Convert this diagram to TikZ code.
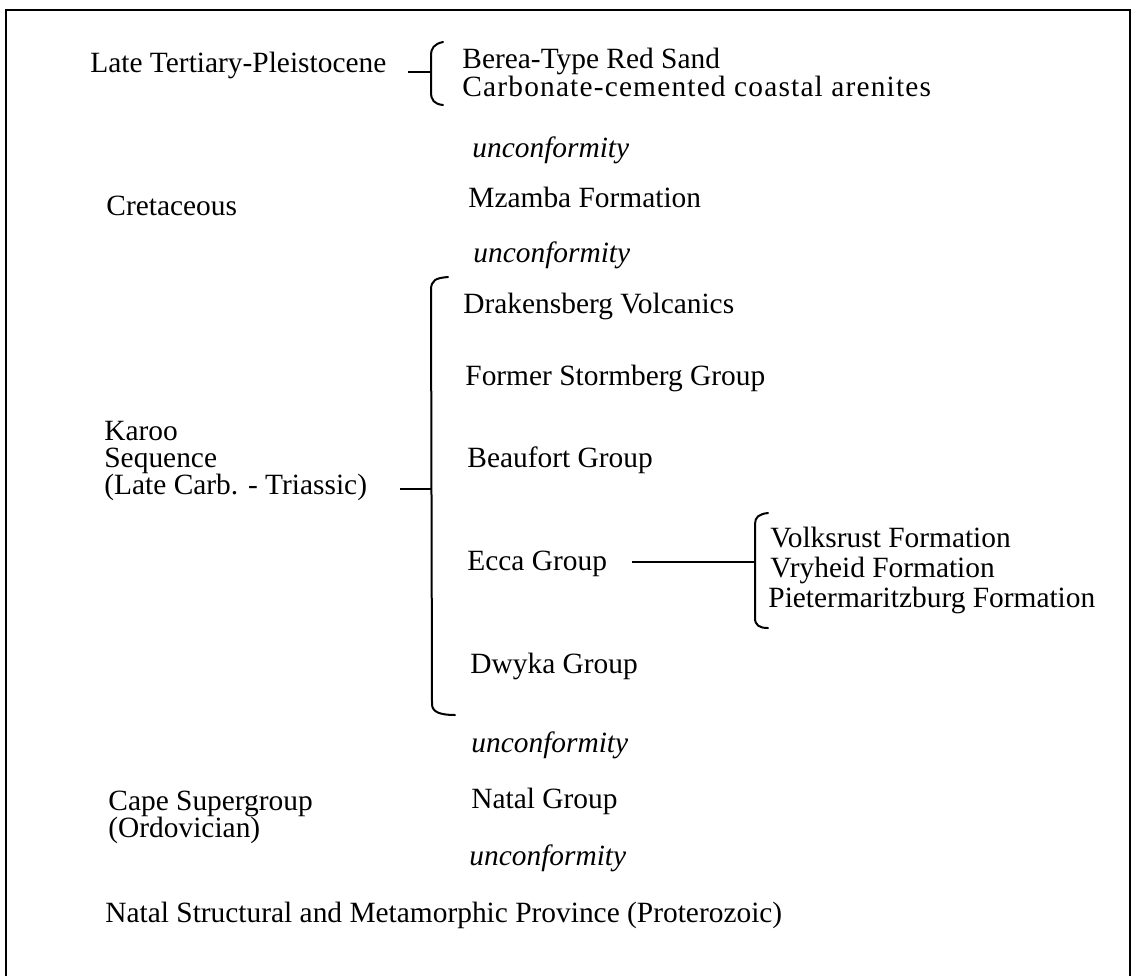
\documentclass[tikz,border=0pt]{standalone}
\usepackage{fontspec}
\setmainfont{Liberation Serif}
\usetikzlibrary{positioning}

\begin{document}
\begin{tikzpicture}[x=0.5pt,y=-0.5pt,
	lbl/.style={anchor=base west,inner sep=0pt,font=\fontsize{14.7}{17}\selectfont},
	unc/.style={lbl,font=\fontsize{14.7}{17}\selectfont\itshape},
	brk/.style={line width=1pt,line cap=round}
	]

	\useasboundingbox (0,0) rectangle (1140,976);
	\draw[line width=1.2pt] (6,976) -- (6,10) -- (1130,10) -- (1130,976);

	\node[lbl] (late) at (90,72) {Late Tertiary-Pleistocene};
	\node[lbl] (berea) at (462,68) {Berea-Type Red Sand};
	\node[lbl] (carb) at (462,96) {\addfontfeature{LetterSpace=4}Carbonate-cemented coastal arenites};

	\node[unc] (unc1) at (472,157) {unconformity};
	\node[lbl] (cret) at (106,215) {Cretaceous};
	\node[lbl] (mzamba) at (468,207) {Mzamba Formation};
	\node[unc] (unc2) at (473,262) {unconformity};

	\node[lbl] (drak) at (463,313) {Drakensberg Volcanics};
	\node[lbl] (storm) at (465,385) {Former Stormberg Group};
	\node[lbl] (beau) at (467,467) {Beaufort Group};
	\node[lbl] (ecca) at (467,570) {Ecca Group};
	\node[lbl] (dwyka) at (470,673) {Dwyka Group};

	\node[lbl] (karoo) at (104,440) {Karoo};
	\node[lbl] (seq) at (104,467) {Sequence};
	\node[lbl] (carbtri) at (104,494) {(Late Carb. - Triassic)};

	\node[lbl] (volks) at (770,547) {Volksrust Formation};
	\node[lbl] (vryh) at (770,577) {Vryheid Formation};
	\node[lbl] (pmb) at (768,607) {Pietermaritzburg Formation};

	\node[unc] (unc3) at (471,752) {unconformity};
	\node[lbl] (cape) at (108,810) {Cape Supergroup};
	\node[lbl] (ordo) at (108,837) {(Ordovician)};
	\node[lbl] (natal) at (471,808) {Natal Group};
	\node[unc] (unc4) at (469,865) {unconformity};

	\node[lbl] (nsmp) at (105,922) {Natal Structural and Metamorphic Province (Proterozoic)};

	\coordinate (td) at (408,72);
	\coordinate (tb) at (431,72);
	\coordinate (kd) at (400,489);
	\coordinate (kb) at (431,489);
	\coordinate (ed) at (632,562);
	\coordinate (eb) at (755,562);

	\draw[brk] (443,42) .. controls (434,44) and (431,48) .. (431,56) -- (431,92) .. controls (431,100) and (434,104) .. (443,105);
	\draw[brk] (448,277) .. controls (436,278) and (431,280) .. (431,290) -- (432,704) .. controls (432,712) and (440,715) .. (455,715);
	\draw[brk] (768,513) .. controls (759,514) and (755,517) .. (755,524) -- (755,618) .. controls (755,625) and (759,628) .. (768,628);

	\draw[line width=0.9pt] (td) -- (tb);
	\draw[line width=0.9pt] (kd) -- (kb);
	\draw[line width=0.8pt] (ed) -- (eb);

\end{tikzpicture}
\end{document}
